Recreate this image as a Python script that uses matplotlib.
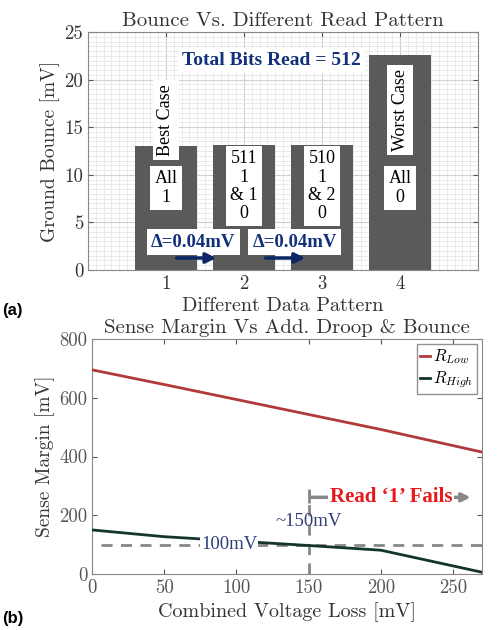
import matplotlib.pyplot as plt
from matplotlib.ticker import MultipleLocator

plt.rcParams['axes.formatter.use_mathtext'] = True
plt.rcParams['mathtext.fontset'] = 'cm'

# (a) ground bounce per read pattern
patterns = [1, 2, 3, 4]
bounce = [13.05, 13.09, 13.13, 22.6]
bar_notes = ['All\n1', '511\n1\n& 1\n0', '510\n1\n& 2\n0', 'All\n0']

# (b) sense margin vs combined voltage loss
loss = [0, 50, 100, 150, 200, 270]
r_low = [695, 645, 594, 543, 492, 415]
r_high = [150, 127, 112, 97, 81, 6]

cm = 'cmr10'
navy = '#13307a'
tick_font = dict(family=cm, size=13.5, color='#333333')

fig = plt.figure(figsize=(4.99, 6.30), dpi=100)

# ---------------- panel (a) ----------------
ax = fig.add_axes([88 / 499, 1 - 270 / 630, 390 / 499, 238 / 630])
ax.bar(patterns, bounce, width=0.8, color='#5a5a5a', zorder=2)
ax.set_xlim(0, 5)
ax.set_ylim(0, 25)
ax.set_xticks(patterns)
ax.set_yticks(range(0, 26, 5))
ax.xaxis.set_minor_locator(MultipleLocator(0.1))
ax.yaxis.set_minor_locator(MultipleLocator(0.5))
ax.grid(which='major', color='#cfcfcf', lw=0.8, zorder=0)
ax.grid(which='minor', color='#e6e6e6', lw=0.6, zorder=0)
ax.tick_params(which='both', direction='in', top=True, right=True, colors='#555555')
ax.tick_params(which='minor', length=0)
ax.set_xticklabels([str(p) for p in patterns], **tick_font)
ax.set_yticklabels([str(v) for v in range(0, 26, 5)], **tick_font)
for s in ax.spines.values():
    s.set_color('#888888')
ax.set_title('Bounce Vs. Different Read Pattern', family=cm, size=15, color='#333333', pad=4)
ax.set_ylabel('Ground Bounce [mV]', family=cm, size=14, color='#333333', labelpad=3)
ax.set_xlabel('Different Data Pattern', family=cm, size=14.5, color='#333333', labelpad=3)

box = dict(facecolor='white', edgecolor='none', pad=3)
for p, note in zip(patterns, bar_notes):
    ax.text(p, 8.8 if '&' in note else 8.6, note, ha='center', va='center',
            family='Liberation Serif', size=13, linespacing=1.1, bbox=box, zorder=4)
ax.text(1, 15.75, 'Best Case', rotation=90, ha='center', va='center',
        family='Liberation Serif', size=13, bbox=box, zorder=4)
ax.text(4, 16.8, 'Worst Case', rotation=90, ha='center', va='center',
        family='Liberation Serif', size=13, bbox=box, zorder=4)
ax.text(2.35, 22.0, 'Total Bits Read = 512', ha='center', va='center', color=navy,
        family='Liberation Serif', weight='bold', size=14, bbox=box, zorder=4)
for x0, x1, xt in [(1.10, 1.68, 1.35), (2.24, 2.82, 2.65)]:
    ax.text(xt, 2.94, '\u0394=0.04mV', ha='center', va='center', color=navy,
            family='Liberation Serif', weight='bold', size=13.5, bbox=box, zorder=4)
    ax.annotate('', xy=(x1, 1.26), xytext=(x0, 1.26), zorder=5,
                arrowprops=dict(arrowstyle='-|>,head_width=0.3,head_length=0.6',
                                color='#0b2766', lw=2.5))

fig.text(0.005, 1 - 310 / 630, '(a)', family='Liberation Sans', weight='bold', size=12,
         va='center')

# ---------------- panel (b) ----------------
bx = fig.add_axes([92 / 499, 1 - 574 / 630, 390 / 499, 235 / 630])
bx.plot(loss, r_low, color='#b0393a', lw=2, label=r'$R_{Low}$', zorder=3)
bx.plot(loss, r_high, color='#13352e', lw=2, label=r'$R_{High}$', zorder=3)
bx.axhline(100, xmin=6 / 270, color='#888888', lw=2, ls=(0, (4, 3)), zorder=2)
bx.plot([150, 150], [0, 290], color='#888888', lw=2, ls=(0, (4, 3)), zorder=2)
bx.set_xlim(0, 270)
bx.set_ylim(0, 800)
bx.set_xticks(range(0, 251, 50))
bx.set_yticks(range(0, 801, 200))
bx.set_xticklabels([str(v) for v in range(0, 251, 50)], **tick_font)
bx.set_yticklabels([str(v) for v in range(0, 801, 200)], **tick_font)
bx.tick_params(direction='in', top=True, right=True, colors='#555555')
for s in bx.spines.values():
    s.set_color('#888888')
bx.set_title('Sense Margin Vs Add. Droop & Bounce', family=cm, size=15, color='#333333', pad=4)
bx.set_ylabel('Sense Margin [mV]', family=cm, size=14, color='#333333', labelpad=3)
bx.set_xlabel('Combined Voltage Loss [mV]', family=cm, size=14.5, color='#333333', labelpad=4)

leg = bx.legend(loc='upper right', fontsize=12, handlelength=0.6, handletextpad=0.2,
                borderpad=0.2, labelspacing=0.2, fancybox=False, borderaxespad=0.3)
leg.get_frame().set_edgecolor('#777777')

bx.text(95, 100, '100mV', ha='center', va='center', color='#2e3f78',
        family='Liberation Serif', size=13.5, bbox=dict(facecolor='white', edgecolor='none', pad=0.5),
        zorder=4)
bx.text(150, 178, '~150mV', ha='center', va='center', color='#2e3f78',
        family='Liberation Serif', size=13.5, zorder=4)
bx.annotate('', xy=(264, 261), xytext=(150, 261), zorder=3,
            arrowprops=dict(arrowstyle='-|>,head_width=0.25,head_length=0.5',
                            color='#888888', lw=2.5))
bx.plot([150], [261], marker='|', ms=9, mew=2, color='#888888', zorder=3)
bx.text(207, 261, 'Read \u20181\u2019 Fails', ha='center', va='center', color='#e8191c',
        family='Liberation Serif', weight='bold', size=15,
        bbox=dict(facecolor='white', edgecolor='none', pad=1), zorder=4)

fig.text(0.005, 1 - 618 / 630, '(b)', family='Liberation Sans', weight='bold', size=12,
         va='center')

fig.savefig('out.png', dpi=100)
